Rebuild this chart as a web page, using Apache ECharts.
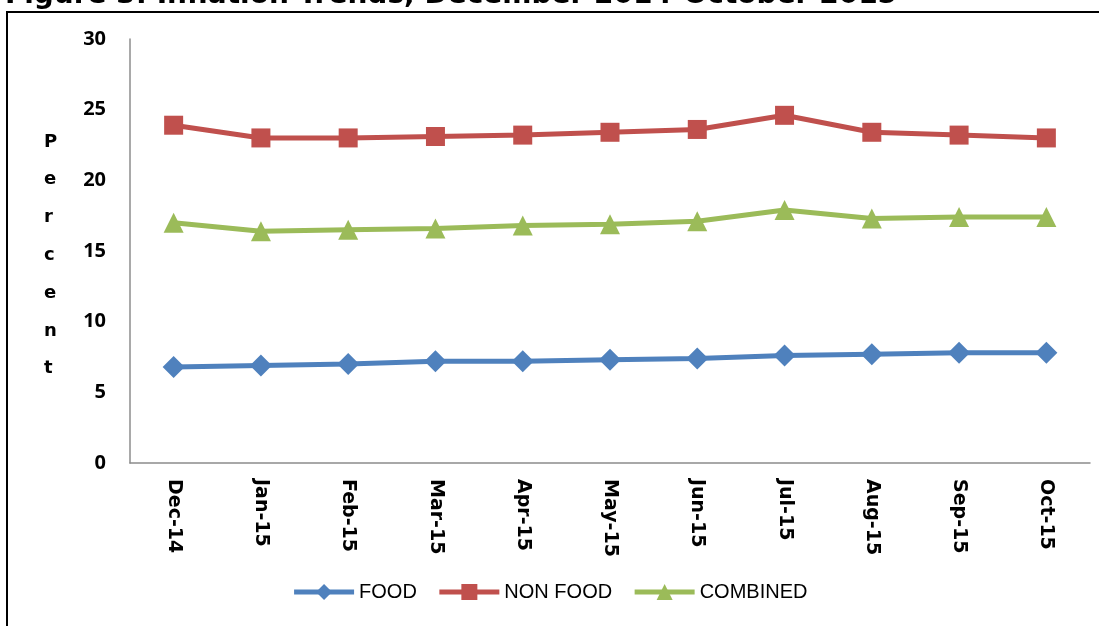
<!DOCTYPE html>
<html>
<head>
<meta charset="utf-8">
<script src="https://cdn.jsdelivr.net/npm/echarts@6/dist/echarts.min.js"></script>
<style>
html,body{margin:0;padding:0;background:#fff;}
#chart{width:1099px;height:626px;}
</style>
</head>
<body>
<div id="chart"></div>
<script>
const categories = ['Dec-14','Jan-15','Feb-15','Mar-15','Apr-15','May-15','Jun-15','Jul-15','Aug-15','Sep-15','Oct-15'];
const food = [6.8, 6.9, 7.0, 7.2, 7.2, 7.3, 7.4, 7.6, 7.7, 7.8, 7.8];
const nonFood = [23.9, 23.0, 23.0, 23.1, 23.2, 23.4, 23.6, 24.6, 23.4, 23.2, 23.0];
const combined = [17.0, 16.4, 16.5, 16.6, 16.8, 16.9, 17.1, 17.9, 17.3, 17.4, 17.4];
const yTicks = [0, 5, 10, 15, 20, 25, 30];
const titleText = 'Figure 3: Inflation Trends, December 2014-October 2015';
const yAxisTitle = 'Percent';

const chart = echarts.init(document.getElementById('chart'));
const mk = (name, data, color, symbol, size) => ({
  name, type: 'line', data, symbol, symbolSize: size,
  lineStyle: {color, width: 5},
  itemStyle: {color},
  emphasis: {disabled: true}
});
chart.setOption({
  animation: false,
  backgroundColor: '#fff',
  title: {
    text: titleText, left: 0, top: -23,
    textStyle: {fontFamily: 'DejaVu Sans', fontWeight: 'bold', fontSize: 28, color: '#000'}
  },
  graphic: [{
    type: 'rect', shape: {x: 7, y: 12, width: 1200, height: 700},
    style: {fill: 'none', stroke: '#000', lineWidth: 2}, z: -1
  }, {
    type: 'text', left: 44, top: 123,
    style: {text: yAxisTitle.split('').join('\n'), fontFamily: 'DejaVu Sans', fontWeight: 'bold',
      fontSize: 18, lineHeight: 37.8, fill: '#000', align: 'center'}
  }],
  legend: {
    bottom: 19, left: 'center',
    itemWidth: 60, itemHeight: 20, itemGap: 20,
    lineStyle: {width: 5},
    textStyle: {fontFamily: 'Liberation Sans', fontSize: 20, color: '#000'},
    data: ['FOOD', 'NON FOOD', 'COMBINED']
  },
  grid: {left: 130, right: 9, top: 39, bottom: 163, containLabel: false},
  xAxis: {
    type: 'category', data: categories, boundaryGap: true,
    axisLine: {lineStyle: {color: '#8c8c8c', width: 1.5}},
    axisTick: {show: false},
    axisLabel: {rotate: -90, margin: 16, fontFamily: 'DejaVu Sans', fontWeight: 'bold', fontSize: 19, color: '#000'}
  },
  yAxis: {
    type: 'value', min: 0, max: 30, interval: 5,
    splitLine: {show: false},
    axisLine: {show: true, lineStyle: {color: '#8c8c8c', width: 1.5}},
    axisTick: {show: false},
    axisLabel: {margin: 24, fontFamily: 'Open Sans', fontWeight: 'bold', fontSize: 20, color: '#000',
      formatter: v => yTicks.includes(v) ? String(v) : ''}
  },
  series: [
    mk('FOOD', food, '#4F81BD', 'diamond', 22),
    mk('NON FOOD', nonFood, '#C0504D', 'rect', 19),
    mk('COMBINED', combined, '#9BBB59', 'triangle', 20)
  ]
});
</script>
</body>
</html>
